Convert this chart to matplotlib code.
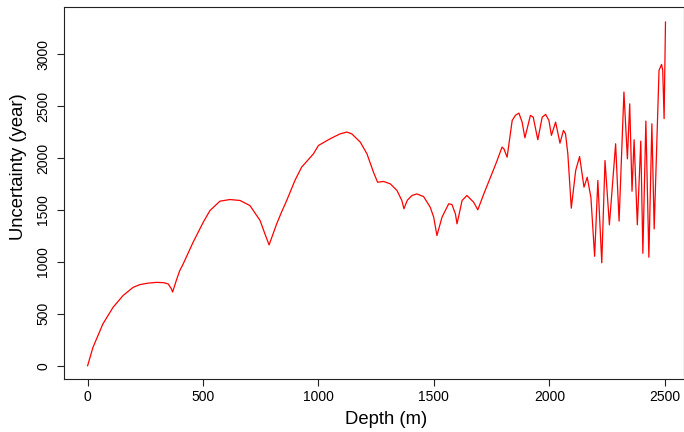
import matplotlib
matplotlib.use('Agg')
from matplotlib import pyplot as plt

depth = [0, 23, 66, 110, 153, 197, 226, 260, 298, 330, 349, 363, 368, 385, 399,
         414, 457, 501, 530, 573, 616, 660, 703, 747, 768, 786, 819, 840, 862,
         898, 927, 978, 1000, 1050, 1094, 1123, 1144, 1181, 1210, 1238, 1256,
         1282, 1311, 1340, 1361, 1370, 1385, 1405, 1426, 1455, 1484, 1499, 1513,
         1535, 1564, 1578, 1593, 1600, 1622, 1643, 1672, 1690, 1716, 1745, 1771,
         1795, 1803, 1817, 1839, 1853, 1868, 1882, 1894, 1918, 1930, 1950, 1969,
         1984, 1998, 2009, 2027, 2046, 2061, 2070, 2080, 2095, 2114, 2131, 2150,
         2164, 2180, 2196, 2210, 2227, 2241, 2260, 2287, 2302, 2323, 2338, 2348,
         2358, 2367, 2381, 2396, 2405, 2418, 2431, 2444, 2454, 2475, 2486, 2491,
         2497, 2503]
uncertainty = [0, 176, 402, 562, 675, 755, 781, 795, 803, 800, 788, 740, 710, 827, 916,
               981, 1190, 1383, 1495, 1585, 1601, 1592, 1543, 1399, 1270, 1164, 1367, 1480, 1590,
               1785, 1913, 2041, 2122, 2186, 2234, 2251, 2234, 2154, 2041, 1865, 1768,
               1775, 1752, 1688, 1592, 1512, 1595, 1640, 1655, 1630, 1527, 1431, 1254,
               1431, 1560, 1553, 1463, 1367, 1592, 1640, 1575, 1502, 1655, 1816, 1961,
               2106, 2090, 2009, 2363, 2412, 2434, 2347, 2196, 2412, 2395, 2177, 2395,
               2421, 2363, 2219, 2347, 2144, 2267, 2234, 2041, 1518, 1881, 2016, 1720,
               1816, 1620, 1054, 1785, 991, 1977, 1357, 2138, 1393, 2637, 1993, 2523,
               1681, 2177, 1357, 2164, 1083, 2357, 1045, 2331, 1318, 2846, 2903, 2846,
               2380, 3311]

x_ticks = [0, 500, 1000, 1500, 2000, 2500]
y_ticks = [0, 500, 1000, 1500, 2000, 2500, 3000]

plt.rcParams['font.family'] = ['Liberation Sans', 'DejaVu Sans']

W, H = 684, 432
fig = plt.figure(figsize=(W / 100, H / 100), dpi=100)
# box in pixels: left 64, right 683.5, top 7, bottom 379
ax = fig.add_axes([64.3 / W, 1 - 379 / H, (683.5 - 64.3) / W, (379 - 7.3) / H])

ax.plot(depth, uncertainty, color='red', linewidth=0.9)

ax.set_xlim(-101, 2581)
ax.set_ylim(-128, 3453)
ax.set_xticks(x_ticks)
ax.set_yticks(y_ticks)

for s in ax.spines.values():
    s.set_linewidth(0.8)
    s.set_color('#222222')

ax.tick_params(axis='both', direction='out', length=5, width=0.8,
               labelsize=10, color='#222222')
ax.tick_params(axis='x', pad=3)
ax.tick_params(axis='y', pad=5, labelrotation=90)
for lab in ax.get_yticklabels():
    lab.set_va('center')

fig.text(386 / W, 1 - 420 / H, 'Depth (m)', fontsize=13.3, ha='center', va='center')
fig.text(18.3 / W, 1 - 167 / H, 'Uncertainty (year)', fontsize=13.3,
         ha='center', va='center', rotation=90)

fig.savefig('out.png', dpi=100)
